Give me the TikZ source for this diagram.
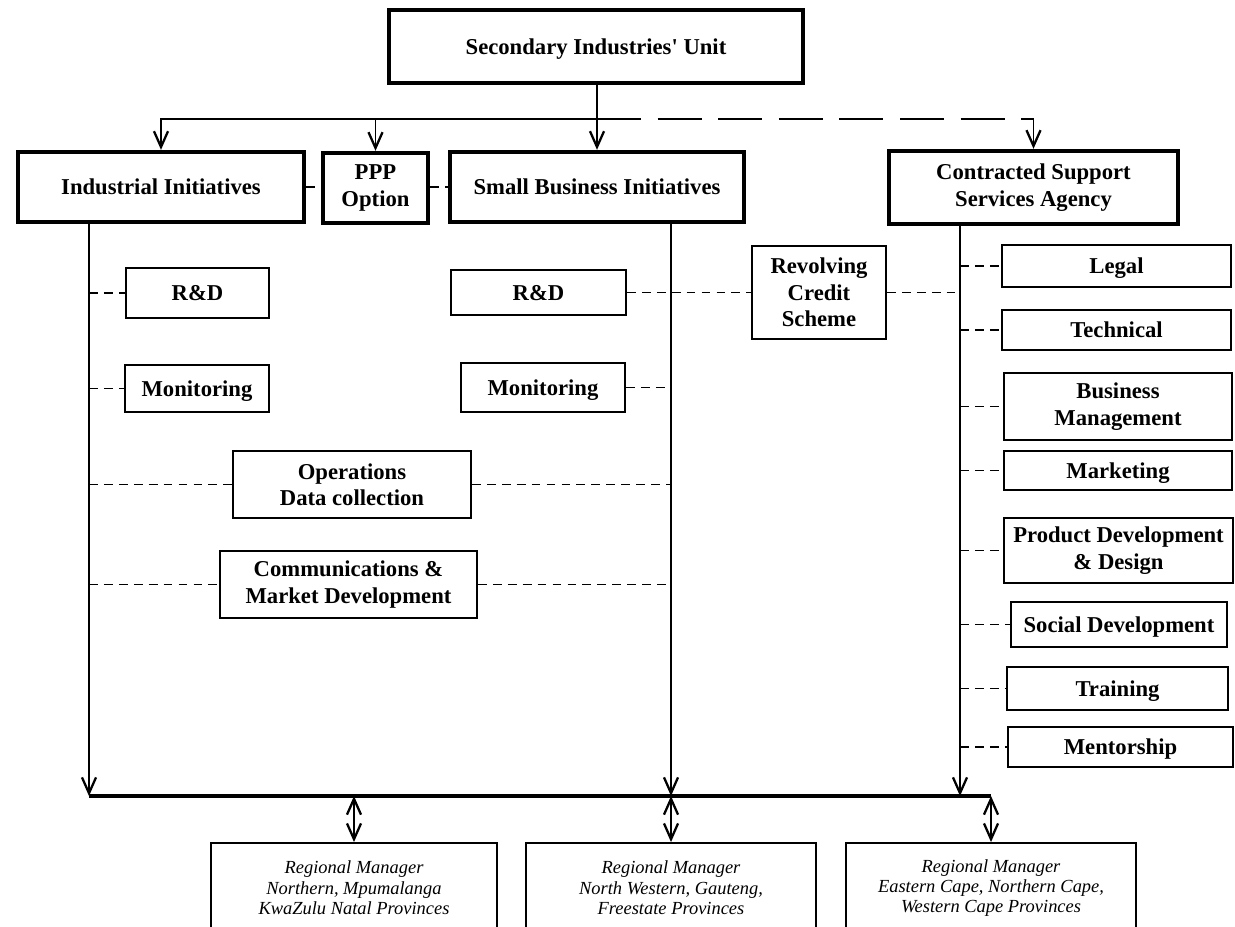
\documentclass[tikz,border=0pt]{standalone}
\usepackage{fontspec}
\setmainfont{Liberation Serif}
\usetikzlibrary{arrows.meta}

\begin{document}
\begin{tikzpicture}
  [x=0.02cm,y=-0.02cm,
   every node/.style={draw,align=center,inner sep=0pt,line width=1.1pt,
     font=\fontsize{12.9}{15}\selectfont\bfseries},
   unit/.style={line width=2.5pt},
   oneline/.style={text height=11.5pt,text depth=2.8pt},
   manager/.style={minimum height=1.8cm,font=\fontsize{10.5}{11.6}\selectfont\itshape},
   trunk/.style={line width=0.9pt},
   arr/.style={line width=0.9pt,-{Straight Barb[length=9pt,width=8pt,line width=1.3pt]}},
   dbl/.style={line width=1pt,{Straight Barb[length=9pt,width=8pt,line width=1.3pt]}-{Straight Barb[length=9pt,width=8pt,line width=1.3pt]}},
   dlink/.style={line width=0.6pt,dash pattern=on 5pt off 3.5pt},
   longdash/.style={line width=0.9pt,dash pattern=on 25pt off 9.5pt},
   bus/.style={line width=1.8pt}]
  \useasboundingbox (0,0) rectangle (1235,927);
  \clip (0,0) rectangle (1235,927);

  % top row
  \node[unit,oneline,minimum width=8.28cm,minimum height=1.46cm] (su) at (596,46.5) {Secondary Industries\textquotesingle{} Unit};
  \node[unit,oneline,minimum width=5.72cm,minimum height=1.4cm] (ii) at (161,187) {Industrial Initiatives};
  \node[unit,minimum width=2.1cm,minimum height=1.4cm] (ppp) at (375.5,188) {PPP\\Option};
  \node[unit,oneline,minimum width=5.88cm,minimum height=1.4cm] (sbi) at (597,187) {Small Business Initiatives};
  \node[unit,minimum width=5.78cm,minimum height=1.46cm] (css) at (1033.5,187.5) {Contracted Support\\Services Agency};

  % middle
  \node[oneline,minimum width=2.86cm,minimum height=1cm] (rdi) at (197.5,293) {R\&D};
  \node[oneline,minimum width=2.88cm,minimum height=0.94cm] (moni) at (197,388.5) {Monitoring};
  \node[oneline,minimum width=3.5cm,minimum height=0.9cm] (rds) at (538.5,292.5) {R\&D};
  \node[oneline,minimum width=3.28cm,minimum height=0.98cm] (mons) at (543,387.5) {Monitoring};
  \node[minimum width=4.76cm,minimum height=1.34cm] (ops) at (352,484.5) {Operations\\Data collection};
  \node[minimum width=5.14cm,minimum height=1.34cm] (comm) at (348.5,584.5) {Communications \&\\Market Development};
  \node[minimum width=2.68cm,minimum height=1.86cm] (rcs) at (819,292.5) {Revolving\\Credit\\Scheme};

  % support services
  \node[oneline,minimum width=4.58cm,minimum height=0.84cm] (legal) at (1116.5,266) {Legal};
  \node[oneline,minimum width=4.58cm,minimum height=0.8cm] (tech) at (1116.5,330) {Technical};
  \node[minimum width=4.56cm,minimum height=1.34cm] (bm) at (1118,406.5) {Business\\Management};
  \node[oneline,minimum width=4.56cm,minimum height=0.78cm] (mkt) at (1118,470.5) {Marketing};
  \node[minimum width=4.58cm,minimum height=1.3cm] (pdd) at (1118.5,550.5) {Product Development\\\& Design};
  \node[oneline,minimum width=4.32cm,minimum height=0.9cm] (soc) at (1119,624.5) {Social Development};
  \node[oneline,minimum width=4.42cm,minimum height=0.86cm] (trn) at (1117.5,688.5) {Training};
  \node[oneline,minimum width=4.5cm,minimum height=0.8cm] (men) at (1120.5,747) {Mentorship};

  % regional managers
  \node[manager,minimum width=5.72cm] (rm1) at (354,888) {Regional Manager\\Northern, Mpumalanga\\KwaZulu Natal Provinces};
  \node[manager,minimum width=5.8cm] (rm2) at (671,888) {Regional Manager\\North Western, Gauteng,\\Freestate Provinces};
  \node[manager,minimum width=5.8cm] (rm3) at (991,888) {Regional Manager\\Eastern Cape, Northern Cape,\\Western Cape Provinces};

  \coordinate (bar) at (597,119);
  \coordinate (ia) at (89,796);
  \coordinate (sa) at (671,796);
  \coordinate (ca) at (960,796);

  \draw[trunk] (su.south -| bar) -- (bar);
  \foreach \to in {ii,ppp,sbi}
    \draw[arr] (bar) -| (\to.north);
  \draw[longdash] (bar) -- (bar -| css.north);
  \draw[arr] (bar -| css.north) -- (css.north);

  \draw[dlink] (ii) -- (ii -| ppp.west);
  \draw[dlink] (ppp.east |- sbi) -- (sbi);
  \foreach \b/\c in {ii/ia,sbi/sa,css/ca}
    \draw[arr] (\b.south -| \c) -- (\c);

  \foreach \b in {rdi,moni,ops,comm}
    \draw[dlink] (\b.west -| ia) -- (\b.west);
  \foreach \b in {mons,ops,comm}
    \draw[dlink] (\b.east) -- (\b.east -| sa);
  \draw[dlink] (rds) -- (rcs);
  \draw[dlink] (rcs.east) -- (rcs.east -| ca);
  \foreach \b in {legal,tech,bm,mkt,pdd,soc,trn,men}
    \draw[dlink] (\b.west -| ca) -- (\b.west);

  \draw[bus] (ia) -- (ia -| rm3.north);
  \foreach \r in {rm1,rm2,rm3}
    \draw[dbl] (\r.north |- ia) -- (\r.north);
\end{tikzpicture}
\end{document}
